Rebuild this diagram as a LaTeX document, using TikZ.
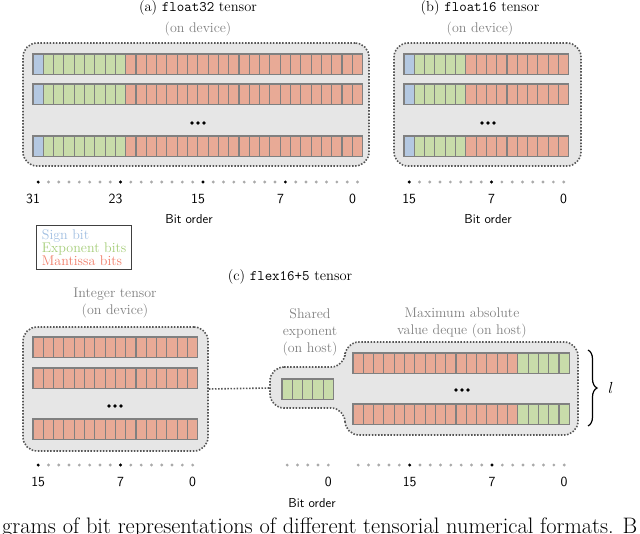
\documentclass[tikz,border=0pt]{standalone}
\usepackage{fix-cm}
\usepackage{fontspec}
\usetikzlibrary{positioning,decorations.pathreplacing}
\definecolor{signc}{RGB}{180,200,225}
\definecolor{expc}{RGB}{200,220,170}
\definecolor{mantc}{RGB}{232,170,150}
\definecolor{signt}{RGB}{160,190,225}
\definecolor{expt}{RGB}{165,205,120}
\definecolor{mantt}{RGB}{240,125,105}
\definecolor{boxc}{RGB}{230,230,230}
\definecolor{edgec}{RGB}{85,85,85}
\definecolor{cellc}{RGB}{128,128,128}
\definecolor{dotc}{RGB}{170,170,170}
\begin{document}
\begin{tikzpicture}[x=1pt, y=-1pt,
  cell/.style = {draw=cellc, line width=1.1pt},
  tensor/.style = {draw=edgec, fill=boxc, line width=1.6pt, dash pattern=on 1.5pt off 1.6pt, rounded corners=14pt, inner sep=0},
  link/.style = {draw=edgec, line width=1.6pt, dash pattern=on 1.5pt off 1.6pt},
  title/.style = {font=\fontsize{14.5}{17}\selectfont},
  note/.style = {font=\fontsize{14}{17}\selectfont, text=gray, align=center},
  num/.style = {font=\sffamily\fontsize{14}{16}\selectfont},
  order/.style = {font=\sffamily\fontsize{13}{15}\selectfont}]
\useasboundingbox (0,0) rectangle (640,533);

% (a) float32
\node[title] (titleA) at (198,8) {(a) \texttt{float32} tensor};
\node[note] (devA) at (198,29) {(on device)};
\node[tensor, minimum width=346pt, minimum height=123pt] (boxA) at (196,104.5) {};
\foreach \y in {54,84,136} {
  \draw[cell, fill=signc] (33,\y) rectangle ++(10.3,20.5);
  \foreach \i in {1,...,8}
    \draw[cell, fill=expc] ({33+\i*10.3},\y) rectangle ++(10.3,20.5);
  \foreach \i in {9,...,31}
    \draw[cell, fill=mantc] ({33+\i*10.3},\y) rectangle ++(10.3,20.5);
}
\foreach \dx in {-6,0,6} \fill ({198+\dx},123) circle (1.9pt);
\foreach \i in {0,...,31} \fill[dotc] ({38.15+\i*10.3},182) circle (1.6pt);
\foreach \i in {0,8,16,24} \fill ({38.15+\i*10.3},182) circle (1.6pt);
\node[num] (a31) at (33,199) {31};
\node[num] (a23) at (115.5,199) {23};
\node[num] (a15) at (198,199) {15};
\node[num] (a7) at (280.5,199) {7};
\node[num] (a0) at (352.5,199) {0};
\node[order] (orderA) at (189,219) {Bit order};

% (b) float16
\node[title] (titleB) at (480,8) {(b) \texttt{float16} tensor};
\node[note] (devB) at (480,29) {(on device)};
\node[tensor, minimum width=187pt, minimum height=123pt] (boxB) at (487.5,104.5) {};
\foreach \y in {54,84,136} {
  \draw[cell, fill=signc] (404,\y) rectangle ++(10.3,20.5);
  \foreach \i in {1,...,5}
    \draw[cell, fill=expc] ({404+\i*10.3},\y) rectangle ++(10.3,20.5);
  \foreach \i in {6,...,15}
    \draw[cell, fill=mantc] ({404+\i*10.3},\y) rectangle ++(10.3,20.5);
}
\foreach \dx in {-6,0,6} \fill ({488+\dx},123) circle (1.9pt);
\foreach \i in {0,...,15} \fill[dotc] ({409.15+\i*10.3},182) circle (1.6pt);
\foreach \i in {0,8} \fill ({409.15+\i*10.3},182) circle (1.6pt);
\node[num] (b15) at (409.15,199) {15};
\node[num] (b7) at (491.55,199) {7};
\node[num] (b0) at (563.65,199) {0};
\node[order] (orderB) at (488,219) {Bit order};

% legend
\node[draw=darkgray, line width=0.8pt, anchor=north west, align=left, inner xsep=5.5pt, inner ysep=4pt,
  font=\fontsize{14}{12.5}\selectfont] (legend) at (36,225)
  {\textcolor{signt}{Sign bit}\\\textcolor{expt}{Exponent bits}\\\textcolor{mantt}{Mantissa bits}};

% (c) flex16+5
\node[title] (titleC) at (290,277) {(c) \texttt{flex16+5} tensor};
\node[note] (intlbl) at (115,302.5) {Integer tensor\\(on device)};
\node[note] (sharedlbl) at (310,332) {Shared\\exponent\\(on host)};
\node[note] (maxlbl) at (462,322.5) {Maximum absolute\\value deque (on host)};

\node[tensor, minimum width=185pt, minimum height=124pt] (intbox) at (115.5,389) {};
\foreach \y in {337,368,419}
  \foreach \i in {0,...,15}
    \draw[cell, fill=mantc] ({33+\i*10.3},\y) rectangle ++(10.3,20.5);
\foreach \dx in {-6,0,6} \fill ({115+\dx},406) circle (1.9pt);

\draw[tensor] (270,367) -- (345,367) -- (345,342) -- (578,342) -- (578,435)
  -- (345,435) -- (345,408) -- (270,408) -- cycle;
\coordinate (sharedw) at (270,388);
\draw[link] (intbox.east) -- (sharedw);

\foreach \i in {0,...,4}
  \draw[cell, fill=expc] ({282+\i*10.3},379) rectangle ++(10.3,20.5);
\foreach \y in {353,404} {
  \foreach \i in {0,...,15}
    \draw[cell, fill=mantc] ({353+\i*10.3},\y) rectangle ++(10.3,20.5);
  \foreach \i in {16,...,20}
    \draw[cell, fill=expc] ({353+\i*10.3},\y) rectangle ++(10.3,20.5);
}
\foreach \dx in {-6,0,6} \fill ({462+\dx},390) circle (1.9pt);

\coordinate (bracetop) at (588,350);
\coordinate (bracebot) at (588,426);
\draw[decorate, decoration={brace, amplitude=9pt}, line width=1.2pt] (bracetop) -- (bracebot);
\node[font=\fontsize{16}{18}\selectfont] (lenlbl) at (611,388) {$l$};

% bit order (c)
\foreach \i in {0,...,15} \fill[dotc] ({38.15+\i*10.3},465) circle (1.6pt);
\foreach \i in {0,8} \fill ({38.15+\i*10.3},465) circle (1.6pt);
\foreach \i in {0,...,4} \fill[dotc] ({287.15+\i*10.3},465) circle (1.6pt);
\foreach \i in {0,...,20} \fill[dotc] ({358.15+\i*10.3},465) circle (1.6pt);
\foreach \i in {5,13} \fill ({358.15+\i*10.3},465) circle (1.6pt);
\node[num] (c15) at (38.15,482) {15};
\node[num] (c7) at (120.55,482) {7};
\node[num] (c0) at (192.65,482) {0};
\node[num] (s0) at (328.35,482) {0};
\node[num] (d15) at (409.65,482) {15};
\node[num] (d7) at (492.05,482) {7};
\node[num] (d0) at (564.15,482) {0};
\node[order] (orderC) at (312,503) {Bit order};

\node[anchor=base west, inner sep=0, font=\fontsize{22.4}{26}\selectfont] (caption) at (2,533.5)
  {grams of bit representations of different tensorial numerical formats. B};
\end{tikzpicture}
\end{document}
